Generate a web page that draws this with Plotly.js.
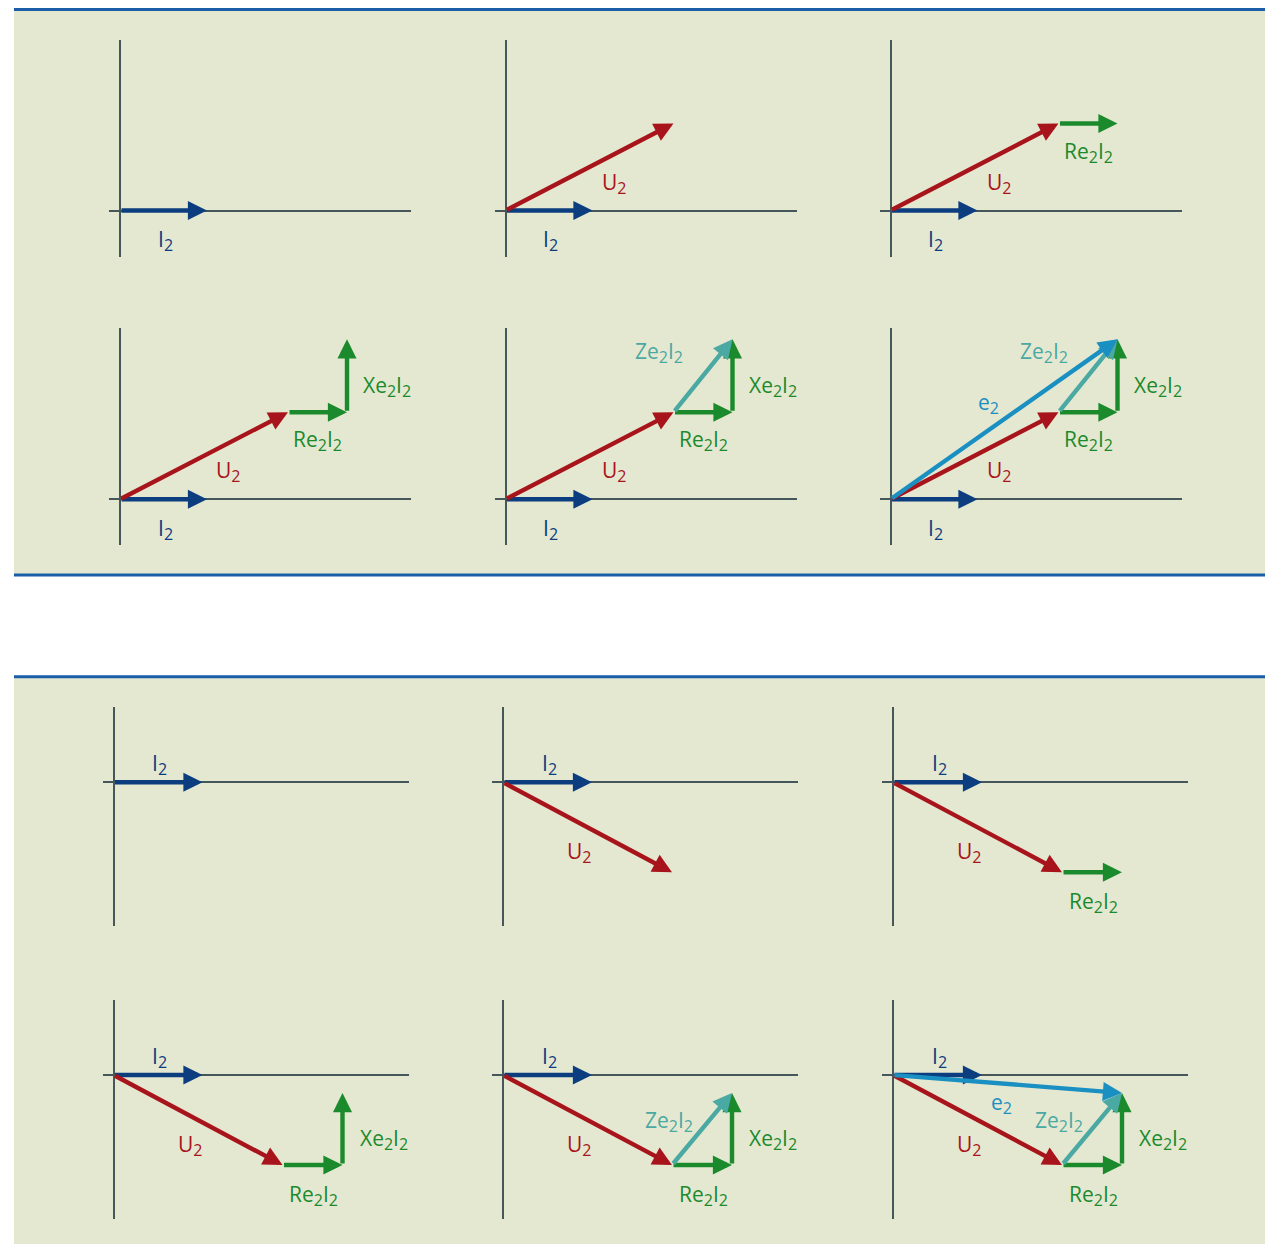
<!DOCTYPE html>
<html><head><meta charset="utf-8">
<script src="https://cdn.plot.ly/plotly-3.0.1.min.js"></script>
<style>html,body{margin:0;padding:0;background:#fff;} #chart{width:1265px;height:1244px;}</style>
</head><body><div id="chart"></div>
<script>
// ---- Phasor data (x = real part, y = imaginary part, upward positive) ----
// Top panel: U2 leads I2
const topI2 = [87, 0];
const topU2 = [168, 87];
const topRe2I2 = [59, 0];
const topXe2I2 = [0, 73];
// Bottom panel: U2 lags I2
const botI2 = [89, 0];
const botU2 = [169, -90];
const botRe2I2 = [60, 0];
const botXe2I2 = [0, 72];
// Labels of the vectors, in drawing order
const vectorNames = ['I2', 'U2', 'Re2I2', 'Xe2I2', 'Ze2I2', 'e2'];
const SUB = s => '<sub><span style="font-size:16px">' + s + '</span></sub>';
const vectorLabels = ['I' + SUB('2'), 'U' + SUB('2'), 'Re' + SUB('2') + 'I' + SUB('2'),
                      'Xe' + SUB('2') + 'I' + SUB('2'), 'Ze' + SUB('2') + 'I' + SUB('2'), 'e' + SUB('2')];

// ---- Layout / style settings ----
const W = 1265, H = 1244;
const colors = ['#0b3d7f', '#a8141b', '#1b8a2d', '#1b8a2d', '#4ba9a3', '#1a8fc2'];
const topLabelPos = [[45, -30], [108, 27.5], [197.5, 58.5], [267, 113], [153, 147], [97.5, 96]];
const botLabelPos = [[46, 18], [76, -70], [200, -120], [270, -64], [165.5, -46], [108.7, -28]];

const panels = [
  {I2: topI2, U2: topU2, Re: topRe2I2, Xe: topXe2I2,
   ox: [120, 505.5, 890.5], oy: [210.5, 499.3], ext: {l: 11, r: 291, u: 171, d: 46}, lab: topLabelPos},
  {I2: botI2, U2: botU2, Re: botRe2I2, Xe: botXe2I2,
   ox: [113.5, 503, 893], oy: [782.3, 1075], ext: {l: 11, r: 295, u: 75, d: 144}, lab: botLabelPos}
];

function add(a, b) { return [a[0] + b[0], a[1] + b[1]]; }

const axisCommon = {showgrid: false, zeroline: true, zerolinecolor: '#46575b', zerolinewidth: 2,
  showticklabels: false, ticks: '', showline: false, fixedrange: true};

const layout = {
  width: W, height: H, margin: {l: 0, r: 0, t: 0, b: 0, pad: 0},
  paper_bgcolor: '#ffffff', plot_bgcolor: 'rgba(0,0,0,0)', showlegend: false,
  shapes: [], annotations: []
};
const fy = v => (H - v) / H;
const panelBg = '#e5e8d0', rule = '#1a5ea8';
layout.shapes.push(
  {type: 'rect', xref: 'paper', yref: 'paper', x0: 14 / W, x1: 1, y0: fy(575), y1: fy(9.5), fillcolor: panelBg, line: {width: 0}, layer: 'below'},
  {type: 'rect', xref: 'paper', yref: 'paper', x0: 14 / W, x1: 1, y0: 0, y1: fy(676.7), fillcolor: panelBg, line: {width: 0}, layer: 'below'},
  {type: 'line', xref: 'paper', yref: 'paper', x0: 14 / W, x1: 1, y0: fy(9.5), y1: fy(9.5), line: {color: rule, width: 3}, layer: 'below'},
  {type: 'line', xref: 'paper', yref: 'paper', x0: 14 / W, x1: 1, y0: fy(575), y1: fy(575), line: {color: rule, width: 3}, layer: 'below'},
  {type: 'line', xref: 'paper', yref: 'paper', x0: 14 / W, x1: 1, y0: fy(676.7), y1: fy(676.7), line: {color: rule, width: 3}, layer: 'below'}
);

const data = [];
let k = 0;
panels.forEach(P => {
  const O = [0, 0];
  const A = add(P.U2, P.Re);
  const E = add(A, P.Xe);
  const vecs = [[O, P.I2], [O, P.U2], [P.U2, A], [A, E], [P.U2, E], [O, E]];
  const e = P.ext;
  for (let r = 0; r < 2; r++) {
    for (let c = 0; c < 3; c++) {
      k++;
      const step = r * 3 + c + 1;
      const xn = k === 1 ? 'x' : 'x' + k, yn = k === 1 ? 'y' : 'y' + k;
      const ox = P.ox[c], oy = P.oy[r];
      layout[k === 1 ? 'xaxis' : 'xaxis' + k] = Object.assign({}, axisCommon,
        {domain: [(ox - e.l) / W, (ox + e.r) / W], range: [-e.l, e.r], anchor: yn});
      layout[k === 1 ? 'yaxis' : 'yaxis' + k] = Object.assign({}, axisCommon,
        {domain: [(H - (oy + e.d)) / H, (H - (oy - e.u)) / H], range: [-e.d, e.u], anchor: xn});
      data.push({type: 'scatter', mode: 'markers', x: [0], y: [0], xaxis: xn, yaxis: yn,
        marker: {opacity: 0}, hoverinfo: 'skip', showlegend: false});
      for (let v = 0; v < step; v++) {
        const [tail, tip] = vecs[v];
        layout.annotations.push({xref: xn, yref: yn, axref: xn, ayref: yn,
          x: tip[0], y: tip[1], ax: tail[0], ay: tail[1], text: '', showarrow: true,
          arrowhead: 2, arrowsize: 0.87, arrowwidth: 4.4, arrowcolor: colors[v], standoff: 0, startstandoff: 0});
      }
      for (let v = 0; v < step; v++) {
        layout.annotations.push({xref: xn, yref: yn, x: P.lab[v][0], y: P.lab[v][1],
          text: vectorLabels[v], showarrow: false, xanchor: 'center', yanchor: 'middle',
          font: {family: 'Open Sans', size: 21, color: colors[v]}});
      }
    }
  }
});

Plotly.newPlot('chart', data, layout, {staticPlot: true, displayModeBar: false});
</script></body></html>
